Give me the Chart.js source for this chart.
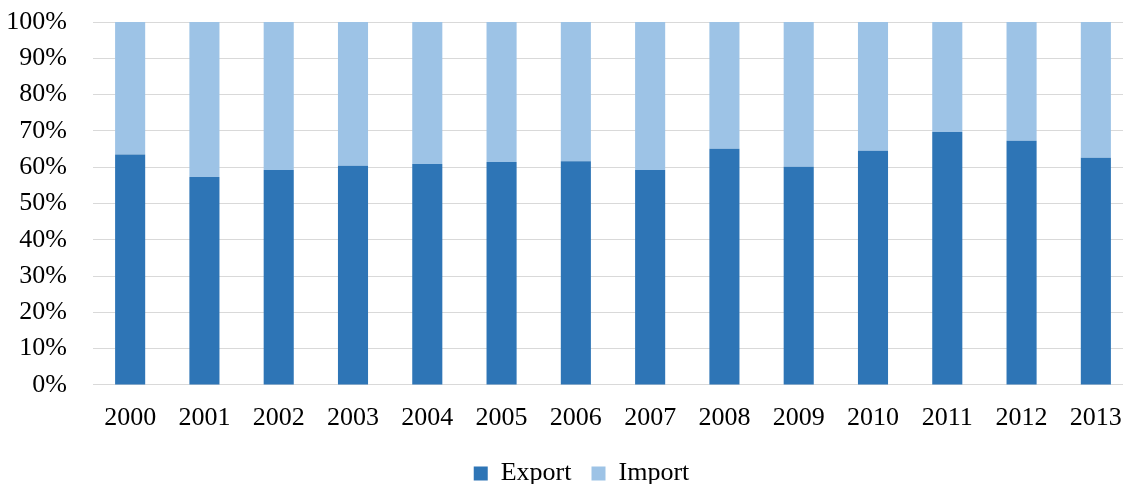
<!DOCTYPE html>
<html>
<head>
<meta charset="utf-8">
<script src="https://cdn.jsdelivr.net/npm/chart.js@4/dist/chart.umd.min.js"></script>
<style>
    html, body { margin: 0; padding: 0; background: #fff; overflow: hidden; }
    .chart-container { position: relative; width: 1162px; height: 484px; }
</style>
</head>
<body>
<div class="chart-container">
    <canvas id="tradeChart"></canvas>
</div>
<script>
const years = ['2000', '2001', '2002', '2003', '2004', '2005', '2006',
               '2007', '2008', '2009', '2010', '2011', '2012', '2013'];
const exportShare = [63.5, 57.3, 59.2, 60.4, 60.9, 61.4, 61.6, 59.2, 65.1, 60.1, 64.5, 69.7, 67.3, 62.6];
const importShare = [36.5, 42.7, 40.8, 39.6, 39.1, 38.6, 38.4, 40.8, 34.9, 39.9, 35.5, 30.3, 32.7, 37.4];
const yTicks = [0, 10, 20, 30, 40, 50, 60, 70, 80, 90, 100];

const fontFamily = '"Liberation Serif", "Times New Roman", serif';

// nudge the legend so it sits centred under the visible part of the page
const legendShift = {
    id: 'legendShift',
    afterLayout(chart) {
        chart.legend.left += 15;
        chart.legend.right += 15;
    }
};

document.addEventListener('DOMContentLoaded', () => {
    const ctx = document.getElementById('tradeChart').getContext('2d');
    new Chart(ctx, {
        type: 'bar',
        data: {
            labels: years,
            datasets: [
                {
                    label: 'Export',
                    data: exportShare,
                    backgroundColor: '#2E75B6',
                    borderWidth: 0,
                    categoryPercentage: 1,
                    barPercentage: 0.405
                },
                {
                    label: 'Import',
                    data: importShare,
                    backgroundColor: '#9DC3E6',
                    borderWidth: 0,
                    categoryPercentage: 1,
                    barPercentage: 0.405
                }
            ]
        },
        options: {
            responsive: true,
            maintainAspectRatio: false,
            animation: false,
            layout: {
                padding: {top: 22, right: 29, left: 0, bottom: -12.5}
            },
            plugins: {
                tooltip: {enabled: false},
                legend: {
                    position: 'bottom',
                    labels: {
                        color: '#000',
                        font: {family: fontFamily, size: 26},
                        boxWidth: 14,
                        boxHeight: 14,
                        padding: 20
                    }
                }
            },
            scales: {
                x: {
                    stacked: true,
                    grid: {display: false},
                    border: {display: false},
                    afterFit: axis => {
                        axis.height = 55.6;
                    },
                    ticks: {
                        color: '#000',
                        font: {family: fontFamily, size: 26},
                        padding: 10,
                        maxRotation: 0
                    }
                },
                y: {
                    stacked: true,
                    min: 0,
                    max: 100,
                    afterBuildTicks: axis => {
                        axis.ticks = yTicks.map(v => ({value: v}));
                    },
                    afterFit: axis => {
                        axis.width = 93;
                    },
                    grid: {
                        color: '#D9D9D9',
                        lineWidth: 1,
                        drawTicks: true,
                        tickLength: 26,
                        tickColor: 'rgba(0,0,0,0)'
                    },
                    border: {display: false},
                    ticks: {
                        color: '#000',
                        font: {family: fontFamily, size: 26},
                        padding: 0,
                        autoSkip: false,
                        callback: v => v + '%'
                    }
                }
            }
        },
        plugins: [legendShift]
    });
});
</script>
</body>
</html>
